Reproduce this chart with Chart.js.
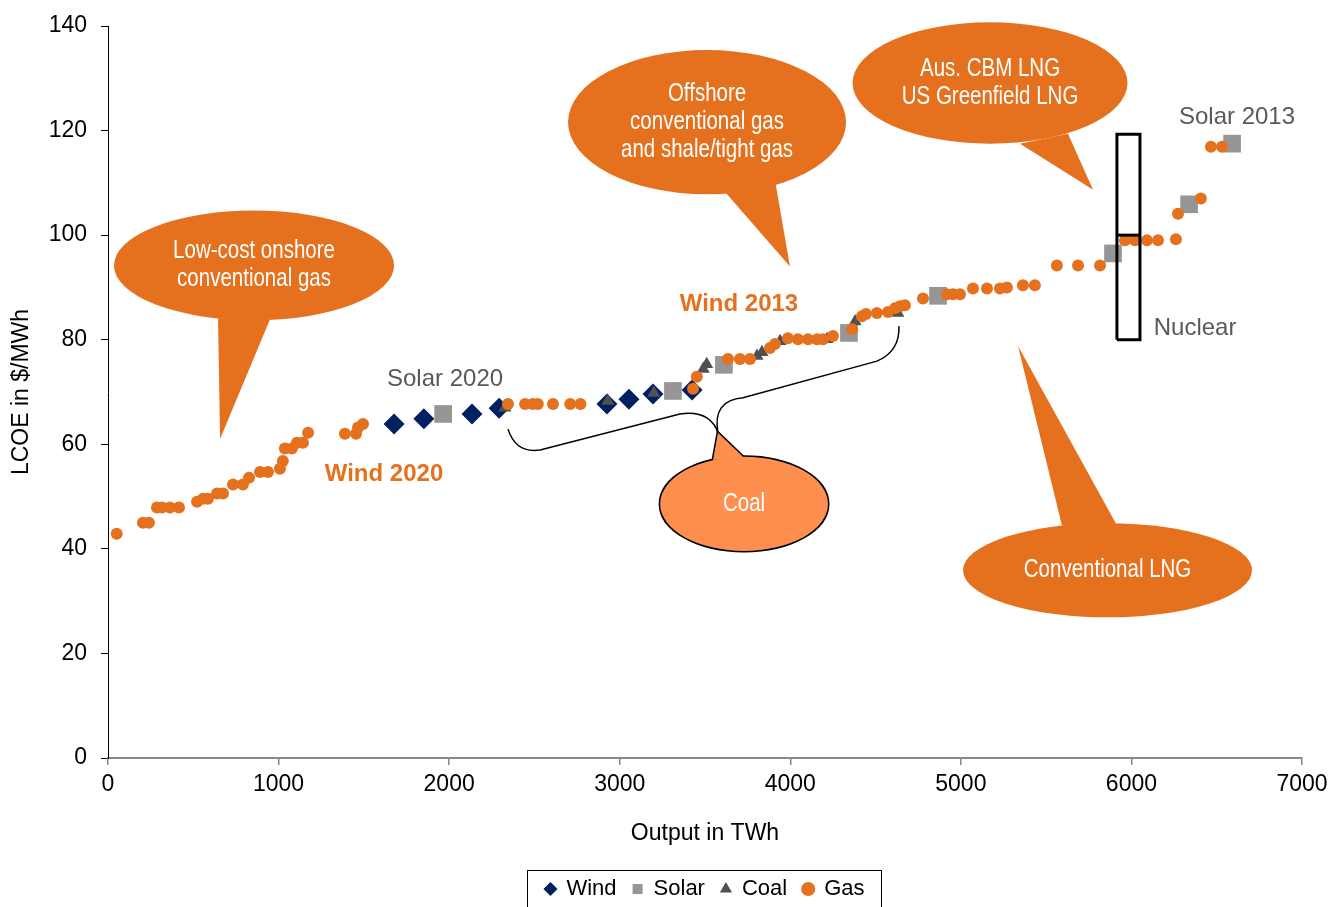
<!DOCTYPE html>
<html>
<head>
<meta charset="utf-8">
<script src="https://cdn.jsdelivr.net/npm/chart.js@4.4.1/dist/chart.umd.min.js"></script>
<style>
  html, body { margin: 0; padding: 0; background: #fff; }
  #wrap { width: 1343px; height: 907px; }
</style>
</head>
<body>
<div id="wrap"><canvas id="chart"></canvas></div>
<script>
// supply curve, output in TWh vs LCOE in $/MWh
const windOutput = [1677, 1852, 2134, 2293, 2925, 3054, 3195, 3424];
const windCost   = [63.9, 64.9, 65.8, 66.9, 67.7, 68.6, 69.6, 70.4];

const solarOutput = [1965, 3312, 3611, 4344, 4866, 5892, 6338, 6590];
const solarCost   = [65.8, 70.2, 75.2, 81.3, 88.4, 96.5, 105.9, 117.5];

const coalOutput = [2327, 2930, 3200, 3490, 3510, 3805, 3834, 3940, 4215, 4380, 4631];
const coalCost   = [67.0, 68.3, 69.8, 74.4, 75.3, 76.9, 77.6, 79.7, 80.1, 83.5, 85.1];

const gasOutput = [51, 205, 240, 287, 316, 363, 416, 522, 557, 586, 639, 674, 733, 791, 827,
  891, 938, 1008, 1025, 1037, 1078, 1108, 1143, 1173, 1389, 1454, 1466, 1495,
  2345, 2445, 2490, 2520, 2609, 2710, 2770, 3430, 3452, 3635, 3705, 3764, 3881, 3910,
  3986, 4045, 4104, 4157, 4192, 4250, 4362, 4420, 4444, 4508, 4573, 4614, 4643, 4672,
  4778, 4918, 4954, 4995, 5071, 5153, 5229, 5270, 5364, 5434, 5563, 5687, 5816,
  5962, 6021, 6091, 6156, 6261, 6273, 6407, 6466, 6531];
const gasCost = [42.9, 45.0, 45.0, 47.9, 47.9, 47.9, 47.9, 49.0, 49.6, 49.6, 50.6, 50.6, 52.3, 52.3, 53.6,
  54.7, 54.7, 55.3, 56.8, 59.2, 59.2, 60.3, 60.3, 62.2, 62.0, 62.0, 63.2, 63.9,
  67.7, 67.7, 67.7, 67.7, 67.7, 67.7, 67.7, 70.6, 72.9, 76.3, 76.3, 76.3, 78.4, 79.2,
  80.3, 80.1, 80.1, 80.1, 80.1, 80.7, 82.0, 84.5, 84.9, 85.1, 85.3, 86.0, 86.4, 86.6,
  87.9, 88.7, 88.7, 88.7, 89.8, 89.8, 89.8, 90.0, 90.4, 90.4, 94.2, 94.2, 94.2,
  99.0, 99.0, 99.0, 99.0, 99.2, 104.1, 107.0, 116.9, 116.9];

// nuclear range box
const nuclearOutput = [5915, 6050];
const nuclearCost = [80, 100, 119.3]; // low, mid, high

const xTicks = [0, 1000, 2000, 3000, 4000, 5000, 6000, 7000];
const yTicks = [0, 20, 40, 60, 80, 100, 120, 140];

const ORANGE = '#E5711E';
const GREY_TXT = '#595959';
const AXIS_FONT = 'Liberation Sans, Arial, sans-serif';

const pts = (xs, ys) => xs.map((v, i) => ({ x: v, y: ys[i] }));

// speech bubbles, in data units
const bubbles = [
  { cx: 856, cy: 94.2, rx: 821, ry: 10.5, tail: [[645, 84.1], [657, 61.0], [950, 83.9]],
    lines: ['Low-cost onshore', 'conventional gas'], fill: ORANGE },
  { cx: 3512, cy: 121.6, rx: 815, ry: 13.8, tail: [[3600, 108.9], [3998, 94.0], [3910, 110.6]],
    lines: ['Offshore', 'conventional gas', 'and shale/tight gas'], fill: ORANGE },
  { cx: 5171, cy: 129.1, rx: 806, ry: 11.6, tail: [[5347, 117.5], [5775, 108.7], [5628, 119.4]],
    lines: ['Aus. CBM LNG', 'US Greenfield LNG'], fill: ORANGE },
  { cx: 5860, cy: 35.9, rx: 847, ry: 9.0, tail: [[5593, 44.4], [5335, 78.8], [5910, 44.8]],
    lines: ['Conventional LNG'], fill: ORANGE },
  { cx: 3729, cy: 48.6, rx: 492, ry: 9.0, tail: [[3547, 57.0], [3576, 62.2], [3723, 57.6]],
    lines: ['Coal'], fill: '#FF8F4F', outline: true }
];

const labels = [
  { text: 'Wind 2020', x: 1618, y: 54.2, color: ORANGE, bold: true },
  { text: 'Wind 2013', x: 3699, y: 86.8, color: ORANGE, bold: true },
  { text: 'Solar 2020', x: 1976, y: 72.5, color: GREY_TXT },
  { text: 'Solar 2013', x: 6619, y: 122.6, color: GREY_TXT },
  { text: 'Nuclear', x: 6373, y: 82.2, color: GREY_TXT }
];

const calloutPlugin = {
  id: 'callouts',
  afterDatasetsDraw(chart) {
    const { ctx, scales: { x, y } } = chart;
    const px = v => x.getPixelForValue(v);
    const py = v => y.getPixelForValue(v);
    ctx.save();

    // brace under the coal block
    ctx.strokeStyle = '#000';
    ctx.lineWidth = 1.5;
    ctx.beginPath();
    ctx.moveTo(px(2345), py(62.9));
    ctx.quadraticCurveTo(px(2392), py(58.2), px(2533), py(58.9));
    ctx.lineTo(px(3353), py(65.8));
    ctx.quadraticCurveTo(px(3529), py(66.6), px(3576), py(62.2));
    ctx.quadraticCurveTo(px(3541), py(68.4), px(3723), py(68.9));
    ctx.lineTo(px(4508), py(75.9));
    ctx.quadraticCurveTo(px(4643), py(77.8), px(4637), py(82.6));
    ctx.stroke();

    bubbles.forEach(b => {
      const cx = px(b.cx), cy = py(b.cy);
      const rx = Math.abs(px(b.cx + b.rx) - cx);
      const ry = Math.abs(py(b.cy + b.ry) - cy);
      const tail = b.tail.map(([vx, vy]) => [px(vx), py(vy)]);
      const ellipse = () => { ctx.beginPath(); ctx.ellipse(cx, cy, rx, ry, 0, 0, Math.PI * 2); };
      const tri = () => {
        ctx.beginPath();
        ctx.moveTo(tail[0][0], tail[0][1]);
        ctx.lineTo(tail[1][0], tail[1][1]);
        ctx.lineTo(tail[2][0], tail[2][1]);
        ctx.closePath();
      };
      if (b.outline) {
        ctx.strokeStyle = '#000';
        ctx.lineWidth = 3;
        ellipse(); ctx.stroke();
        tri(); ctx.stroke();
      }
      ctx.fillStyle = b.fill;
      ellipse(); ctx.fill();
      tri(); ctx.fill();

      // narrow white text: squeeze a regular face horizontally
      ctx.fillStyle = '#fff';
      ctx.font = '25px ' + AXIS_FONT;
      ctx.textAlign = 'center';
      ctx.textBaseline = 'middle';
      const n = b.lines.length;
      b.lines.forEach((t, i) => {
        ctx.save();
        ctx.translate(cx, cy + (i - (n - 1) / 2) * 28);
        ctx.scale(0.82, 1);
        ctx.fillText(t, 0, 0);
        ctx.restore();
      });
    });

    labels.forEach(l => {
      ctx.fillStyle = l.color;
      ctx.font = (l.bold ? 'bold ' : '') + '24px ' + AXIS_FONT;
      ctx.textAlign = 'center';
      ctx.textBaseline = 'middle';
      ctx.fillText(l.text, px(l.x), py(l.y));
    });
    ctx.restore();
  },
  afterDraw(chart) {
    // frame round the legend
    const lg = chart.legend;
    if (!lg || !lg.legendHitBoxes || !lg.legendHitBoxes.length) return;
    const hb = lg.legendHitBoxes;
    const first = hb[0], last = hb[hb.length - 1];
    const { ctx } = chart;
    const midY = first.top + first.height / 2;
    ctx.save();
    ctx.strokeStyle = '#000';
    ctx.lineWidth = 1;
    ctx.strokeRect(Math.round(first.left - 18) + 0.5, Math.round(midY - 19) + 0.5,
      Math.round(last.left + last.width + 17 - (first.left - 18)), 60);
    ctx.restore();
  }
};

const datasets = [
  { label: 'Wind', data: pts(windOutput, windCost), pointStyle: 'rectRot', pointRadius: 10.5,
    backgroundColor: '#002060', borderColor: '#002060', borderWidth: 0, order: 4 },
  { label: 'Solar', data: pts(solarOutput, solarCost), pointStyle: 'rect', pointRadius: 12.5,
    backgroundColor: '#969696', borderColor: '#969696', borderWidth: 0, order: 3 },
  { label: 'Coal', data: pts(coalOutput, coalCost), pointStyle: 'triangle', pointRadius: 7.5,
    backgroundColor: '#505050', borderColor: '#505050', borderWidth: 0, order: 2 },
  { label: 'Gas', data: pts(gasOutput, gasCost), pointStyle: 'circle', pointRadius: 6,
    backgroundColor: ORANGE, borderColor: ORANGE, borderWidth: 0, order: 1 },
  { label: 'Nuclear range', data: [
      { x: nuclearOutput[0], y: nuclearCost[0] }, { x: nuclearOutput[1], y: nuclearCost[0] },
      { x: nuclearOutput[1], y: nuclearCost[2] }, { x: nuclearOutput[0], y: nuclearCost[2] },
      { x: nuclearOutput[0], y: nuclearCost[0] }],
    showLine: true, pointRadius: 0, borderColor: '#000', borderWidth: 3, order: 0 },
  { label: 'Nuclear mid', data: [
      { x: nuclearOutput[0], y: nuclearCost[1] }, { x: nuclearOutput[1], y: nuclearCost[1] }],
    showLine: true, pointRadius: 0, borderColor: '#000', borderWidth: 3, order: 0 }
];

new Chart(document.getElementById('chart'), {
  type: 'scatter',
  data: { datasets },
  plugins: [calloutPlugin],
  options: {
    responsive: true,
    maintainAspectRatio: false,
    animation: false,
    layout: { padding: { top: 26, right: 41, bottom: -3, left: 0 } },
    plugins: {
      tooltip: { enabled: false },
      legend: {
        position: 'bottom',
        fullSize: false,
        labels: {
          usePointStyle: true,
          boxHeight: 10,
          boxWidth: 10,
          padding: 16,
          color: '#000',
          font: { family: AXIS_FONT, size: 22 },
          filter: item => !item.text.startsWith('Nuclear'),
          sort: (a, b) => a.datasetIndex - b.datasetIndex
        }
      }
    },
    scales: {
      x: {
        type: 'linear',
        min: 0,
        max: 7000,
        afterBuildTicks: s => { s.ticks = xTicks.map(v => ({ value: v })); },
        afterFit: s => { s.height = 104; s.paddingLeft = 0; s.paddingRight = 0; },
        grid: { display: true, drawOnChartArea: false, drawTicks: true, tickLength: 7, color: '#888', lineWidth: 1.5 },
        border: { display: true, color: '#888', width: 2 },
        ticks: { color: '#000', padding: 6, font: { family: AXIS_FONT, size: 23 }, callback: v => String(v) },
        title: { display: true, text: 'Output in TWh', color: '#000',
          font: { family: AXIS_FONT, size: 23 }, padding: { top: 0, bottom: 15 } }
      },
      y: {
        type: 'linear',
        min: 0,
        max: 140,
        afterBuildTicks: s => { s.ticks = yTicks.map(v => ({ value: v })); },
        afterFit: s => { s.width = 108; s.paddingTop = 0; s.paddingBottom = 0; },
        grid: { display: true, drawOnChartArea: false, drawTicks: true, tickLength: 7, color: '#000', lineWidth: 1 },
        border: { display: true, color: '#000', width: 1 },
        ticks: { color: '#000', padding: 14, font: { family: AXIS_FONT, size: 23 }, callback: v => String(v) },
        title: { display: true, text: 'LCOE in $/MWh', color: '#000',
          font: { family: AXIS_FONT, size: 23 }, padding: { top: 8, bottom: 0 } }
      }
    }
  }
});
</script>
</body>
</html>
